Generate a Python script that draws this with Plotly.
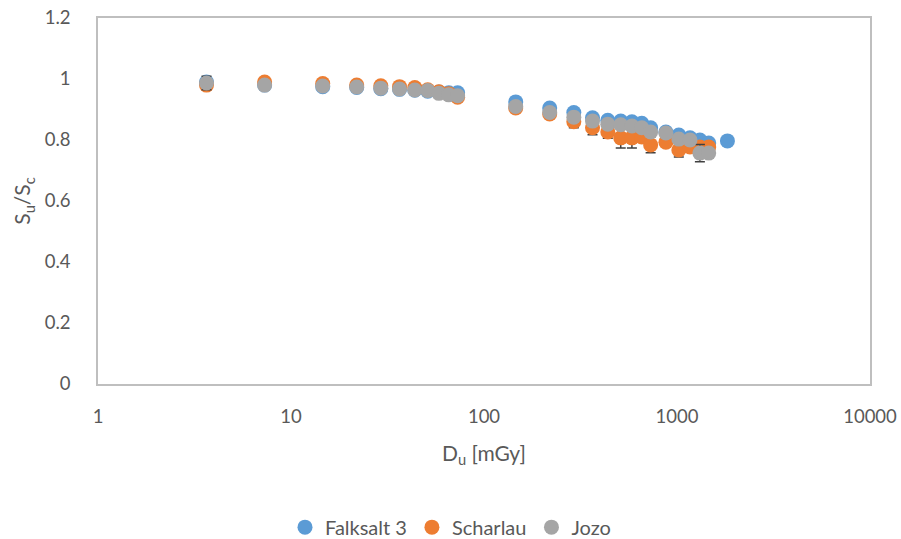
import plotly.graph_objects as go

# Absorbed dose (mGy) for each series
dose_falksalt = [3.65, 7.3, 14.6, 21.9, 29.2, 36.5, 43.8, 51.1, 58.4, 65.7, 73,
                 146, 219, 292, 365, 438, 511, 584, 657, 730, 876, 1022, 1168, 1314, 1460, 1825]
dose_scharlau = [3.65, 7.3, 14.6, 21.9, 29.2, 36.5, 43.8, 51.1, 58.4, 65.7, 73,
                 146, 219, 292, 365, 438, 511, 584, 657, 730, 876, 1022, 1168, 1314, 1460]
dose_jozo = [3.65, 7.3, 14.6, 21.9, 29.2, 36.5, 43.8, 51.1, 58.4, 65.7, 73,
             146, 219, 292, 365, 438, 511, 584, 657, 730, 876, 1022, 1168, 1314, 1460]

# Relative signal S_u/S_c
ratio_falksalt = [0.99, 0.98, 0.975, 0.972, 0.968, 0.966, 0.963, 0.96, 0.957, 0.955, 0.955,
                  0.925, 0.905, 0.89, 0.873, 0.865, 0.862, 0.86, 0.855, 0.84, 0.826, 0.816, 0.807, 0.8, 0.79, 0.797]
ratio_scharlau = [0.98, 0.99, 0.985, 0.98, 0.978, 0.975, 0.972, 0.965, 0.958, 0.952, 0.94,
                  0.905, 0.885, 0.86, 0.84, 0.826, 0.807, 0.807, 0.81, 0.784, 0.793, 0.767, 0.777, 0.777, 0.777]
ratio_jozo = [0.987, 0.98, 0.977, 0.974, 0.97, 0.967, 0.964, 0.962, 0.953, 0.948, 0.945,
              0.91, 0.89, 0.875, 0.862, 0.852, 0.85, 0.846, 0.84, 0.826, 0.823, 0.803, 0.8, 0.757, 0.757]

# Standard deviations
err_falksalt = [0.01, 0.01, 0.01, 0.01, 0.01, 0.01, 0.01, 0.01, 0.01, 0.01, 0.01,
                0.01, 0.01, 0.01, 0.012, 0.012, 0.012, 0.012, 0.012, 0.012, 0.012, 0.012, 0.012, 0.012, 0.012, 0.01]
err_scharlau = [0.01, 0.01, 0.01, 0.01, 0.01, 0.01, 0.01, 0.01, 0.01, 0.01, 0.01,
                0.01, 0.012, 0.02, 0.023, 0.02, 0.033, 0.033, 0.015, 0.026, 0.015, 0.023, 0.015, 0.015, 0.015]
err_jozo = [0.022, 0.01, 0.01, 0.01, 0.01, 0.01, 0.01, 0.01, 0.01, 0.01, 0.01,
            0.01, 0.01, 0.01, 0.01, 0.01, 0.01, 0.01, 0.01, 0.01, 0.01, 0.012, 0.012, 0.028, 0.015]

series = [
    ("Falksalt 3", dose_falksalt, ratio_falksalt, err_falksalt, "#5B9BD5"),
    ("Scharlau", dose_scharlau, ratio_scharlau, err_scharlau, "#ED7D31"),
    ("Jozo", dose_jozo, ratio_jozo, err_jozo, "#A5A5A5"),
]

x_tick_vals = [1, 10, 100, 1000, 10000]
x_tick_text = ["1", "10", "100", "1000", "10000"]

FONT = "Lato, Carlito, 'Open Sans', sans-serif"
TEXT = "#595959"

fig = go.Figure()
for name, x, y, e, color in series:
    fig.add_trace(go.Scatter(
        x=x, y=y, name=name, mode="markers",
        marker=dict(color=color, size=15, line=dict(width=0)),
        error_y=dict(type="data", array=e, visible=True,
                     color="#404040", thickness=1.5, width=5),
    ))

fig.update_layout(
    width=901, height=539,
    margin=dict(l=98, r=31, t=18, b=155),
    paper_bgcolor="white", plot_bgcolor="white",
    font=dict(family=FONT, color=TEXT, size=18),
    showlegend=True,
    legend=dict(orientation="h", xref="container", yref="container",
                x=0.5, y=0.022, xanchor="center", yanchor="middle",
                font=dict(size=20, color=TEXT), itemsizing="trace",
                itemwidth=30, tracegroupgap=0),
)
fig.update_xaxes(
    type="log", range=[0, 4], automargin=False,
    tickvals=x_tick_vals, ticktext=x_tick_text,
    showgrid=False, zeroline=False,
    showline=True, mirror=True, linecolor="#BFBFBF", linewidth=1.5,
    ticks="", ticklabelstandoff=15,
    tickfont=dict(size=18.5, color=TEXT),
    title=dict(text="D<sub>u</sub> [mGy]", font=dict(size=21, color=TEXT), standoff=20),
)
fig.update_yaxes(
    range=[0, 1.2], dtick=0.2, tick0=0, automargin=False,
    showgrid=False, zeroline=False,
    showline=True, mirror=True, linecolor="#BFBFBF", linewidth=1.5,
    ticks="", ticklabelstandoff=22,
    tickfont=dict(size=18.5, color=TEXT),
    title=dict(text="S<sub>u</sub>/S<sub>c</sub>", font=dict(size=21, color=TEXT), standoff=8),
)

fig.write_html("out.html")
